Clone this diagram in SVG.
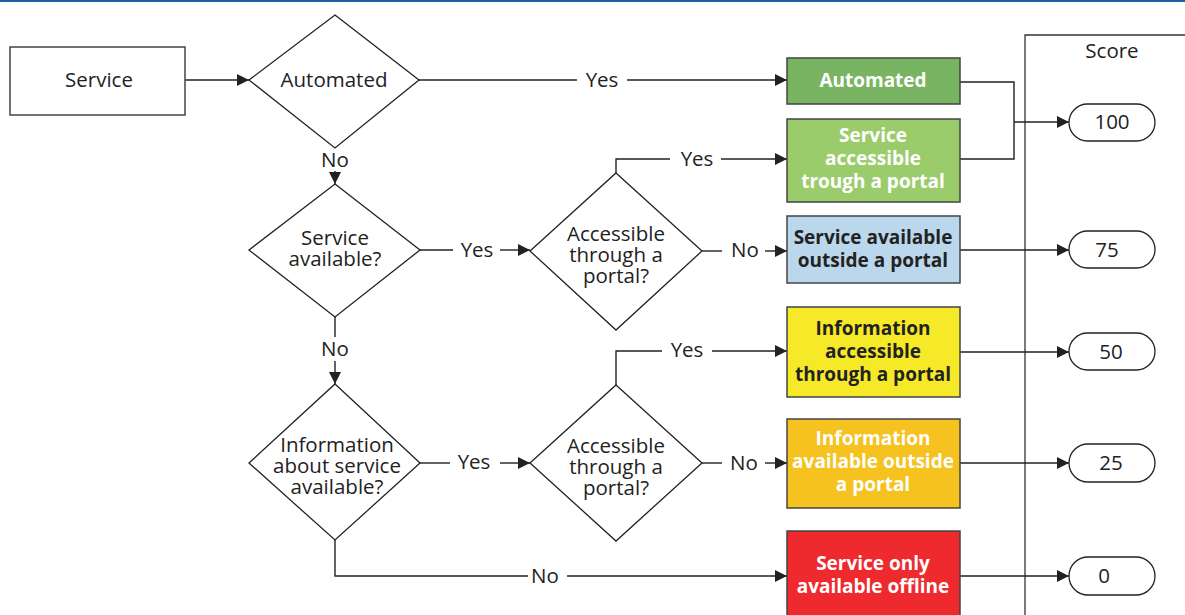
<svg xmlns="http://www.w3.org/2000/svg" width="1185" height="615" viewBox="0 0 1185 615">
<style>
text{font-family:"Open Sans","Liberation Sans",sans-serif;font-size:20.5px;text-anchor:middle;fill:#222}
.b{font-weight:bold;font-size:19px}
.w{fill:#fff}
.d{fill:#fff;stroke:#222;stroke-width:1.3}
.r{stroke:#444;stroke-width:1.5}
.p{fill:#fff;stroke:#222;stroke-width:1.3}
.c{fill:none;stroke:#222;stroke-width:1.4}
</style>
<defs>
<marker id="a" viewBox="0 0 12 12" refX="12" refY="6" markerWidth="12" markerHeight="12" markerUnits="userSpaceOnUse" orient="auto">
<path d="M0,0 L12,6 L0,12 Z" fill="#222"/>
</marker>
</defs>
<rect width="1185" height="615" fill="#fff"/>
<line x1="0" y1="1" x2="1185" y2="1" stroke="#1f5fa8" stroke-width="2"/>
<g id="score-col">
<path d="M1025,615 V35 H1185" fill="none" stroke="#333" stroke-width="1.3"/>
<text x="1112" y="58">Score</text>
</g>
<g id="connectors" class="c">
<line x1="185" y1="80" x2="249" y2="80" marker-end="url(#a)"/>
<line x1="419" y1="80" x2="577" y2="80"/>
<line x1="627" y1="80" x2="787" y2="80" marker-end="url(#a)"/>
<line x1="335" y1="171" x2="335" y2="184" marker-end="url(#a)"/>
<polyline points="960,82 1014,82 1014,159 960,159"/>
<line x1="1014" y1="122" x2="1069" y2="122" marker-end="url(#a)"/>
<line x1="420" y1="250" x2="453" y2="250"/>
<line x1="500" y1="250" x2="530" y2="250" marker-end="url(#a)"/>
<polyline points="616,173 616,159 670,159"/>
<line x1="721" y1="159" x2="787" y2="159" marker-end="url(#a)"/>
<line x1="702" y1="251" x2="722" y2="251"/>
<line x1="765" y1="251" x2="787" y2="251" marker-end="url(#a)"/>
<line x1="960" y1="250" x2="1069" y2="250" marker-end="url(#a)"/>
<line x1="335" y1="317" x2="335" y2="337"/>
<line x1="335" y1="361" x2="335" y2="384" marker-end="url(#a)"/>
<polyline points="616,385 616,351 662,351"/>
<line x1="712" y1="351" x2="787" y2="351" marker-end="url(#a)"/>
<line x1="960" y1="352" x2="1069" y2="352" marker-end="url(#a)"/>
<line x1="420" y1="463" x2="450" y2="463"/>
<line x1="500" y1="463" x2="530" y2="463" marker-end="url(#a)"/>
<line x1="702" y1="463" x2="722" y2="463"/>
<line x1="765" y1="463" x2="787" y2="463" marker-end="url(#a)"/>
<line x1="960" y1="463" x2="1069" y2="463" marker-end="url(#a)"/>
<polyline points="335,540 335,576 528,576"/>
<line x1="567" y1="576" x2="787" y2="576" marker-end="url(#a)"/>
<line x1="960" y1="576" x2="1069" y2="576" marker-end="url(#a)"/>
</g>
<g id="labels">
<text x="602" y="87">Yes</text>
<text x="335" y="167">No</text>
<text x="477" y="257">Yes</text>
<text x="697" y="166">Yes</text>
<text x="745" y="257">No</text>
<text x="335" y="356">No</text>
<text x="687" y="357">Yes</text>
<text x="474" y="469">Yes</text>
<text x="744" y="470">No</text>
<text x="545" y="583">No</text>
</g>
<g id="service"><rect x="10" y="47" width="175" height="68" fill="#fff" stroke="#444" stroke-width="1.5"/><text x="99" y="87">Service</text></g>
<g id="d-automated"><polygon class="d" points="335,15 419,80 335,148 249,80"/><text x="334" y="87">Automated</text></g>
<g id="d-service-available"><polygon class="d" points="335,184 420,250 335,317 249,250"/><text x="335" y="245">Service</text><text x="335" y="266">available?</text></g>
<g id="d-accessible-1"><polygon class="d" points="616,173 702,251 616,330 530,251"/><text x="616" y="241">Accessible</text><text x="616" y="262">through a</text><text x="616" y="283">portal?</text></g>
<g id="d-information"><polygon class="d" points="335,384 420,463 335,540 249,463"/><text x="337" y="452">Information</text><text x="337" y="473">about service</text><text x="337" y="494">available?</text></g>
<g id="d-accessible-2"><polygon class="d" points="616,385 702,463 616,541 530,463"/><text x="616" y="453">Accessible</text><text x="616" y="474">through a</text><text x="616" y="495">portal?</text></g>
<g id="r-automated"><rect class="r" x="787" y="58" width="173" height="46" fill="#79b462"/><text class="b w" x="873" y="87">Automated</text></g>
<g id="r-service-accessible"><rect class="r" x="787" y="119" width="173" height="83" fill="#9bcc6c"/><text class="b w" x="873" y="142">Service</text><text class="b w" x="873" y="165">accessible</text><text class="b w" x="873" y="188">trough a portal</text></g>
<g id="r-service-outside"><rect class="r" x="787" y="216" width="173" height="67" fill="#bad7ec"/><text class="b" x="873" y="244">Service available</text><text class="b" x="873" y="267">outside a portal</text></g>
<g id="r-info-accessible"><rect class="r" x="787" y="307" width="173" height="90" fill="#f5e928"/><text class="b" x="873" y="335">Information</text><text class="b" x="873" y="358">accessible</text><text class="b" x="873" y="381">through a portal</text></g>
<g id="r-info-outside"><rect class="r" x="787" y="419" width="173" height="89" fill="#f5c220"/><text class="b w" x="873" y="445">Information</text><text class="b w" x="873" y="468">available outside</text><text class="b w" x="873" y="491">a portal</text></g>
<g id="r-offline"><rect class="r" x="787" y="531" width="173" height="90" fill="#ee2a2e"/><text class="b w" x="873" y="570">Service only</text><text class="b w" x="873" y="593">available offline</text></g>
<g id="p100"><rect class="p" x="1069" y="104" width="86" height="37" rx="18.5"/><text x="1112" y="129">100</text></g>
<g id="p75"><rect class="p" x="1069" y="231" width="86" height="37" rx="18.5"/><text x="1107" y="257">75</text></g>
<g id="p50"><rect class="p" x="1069" y="333" width="86" height="37" rx="18.5"/><text x="1111" y="359">50</text></g>
<g id="p25"><rect class="p" x="1069" y="444" width="86" height="38" rx="19"/><text x="1111" y="470">25</text></g>
<g id="p0"><rect class="p" x="1069" y="557" width="86" height="38" rx="19"/><text x="1104" y="583">0</text></g>
</svg>
